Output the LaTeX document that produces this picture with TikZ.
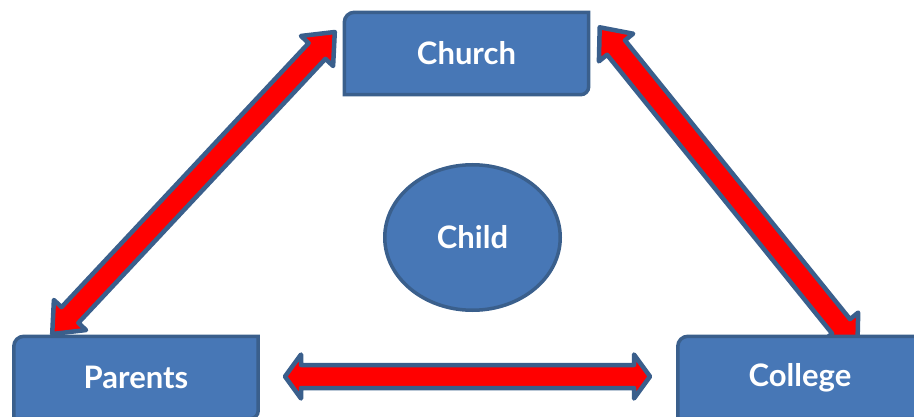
\documentclass[tikz,border=0pt]{standalone}
\usepackage{fontspec}
\setmainfont{Lato}
\usetikzlibrary{calc,backgrounds,shapes.geometric}
\definecolor{boxfill}{HTML}{4777B6}
\definecolor{boxline}{HTML}{3A5F8C}
\definecolor{arrred}{HTML}{FF0000}
% #1 start, #2 end, #3 head length, #4 head half width, #5 shaft half width
\newcommand\blockarrow[5]{%
  \draw[blockarr] (#1)
    -- ($(#1)!#3!(#2)!#4!90:(#2)$)
    -- ($(#1)!#3!(#2)!#5!90:(#2)$)
    -- ($(#2)!#3!(#1)!#5!-90:(#1)$)
    -- ($(#2)!#3!(#1)!#4!-90:(#1)$)
    -- (#2)
    -- ($(#2)!#3!(#1)!#4!90:(#1)$)
    -- ($(#2)!#3!(#1)!#5!90:(#1)$)
    -- ($(#1)!#3!(#2)!#5!-90:(#2)$)
    -- ($(#1)!#3!(#2)!#4!-90:(#2)$)
    -- cycle;}
\newcommand\snipbox[1]{%
  \draw[boxshape] (#1.south west) -- ([yshift=-10pt]#1.north west)
    arc[start angle=180,end angle=90,radius=10pt] -- (#1.north east)
    -- ([yshift=8pt]#1.south east)
    arc[start angle=0,end angle=-90,radius=8pt] -- cycle;}
\tikzset{
  blockarr/.style={fill=arrred, draw=boxline, line width=4.5pt, line join=round},
  boxshape/.style={fill=boxfill, draw=boxline, line width=3.5pt},
  boxtext/.style={minimum width=244pt, minimum height=82pt, inner sep=0pt,
    text=white, font=\fontsize{31}{36}\selectfont\bfseries},
  childstyle/.style={ellipse, minimum width=175.5pt, minimum height=145.5pt,
    inner sep=0pt, fill=boxfill, draw=boxline, line width=3.5pt,
    text=white, font=\fontsize{31}{36}\selectfont\bfseries}
}
\begin{document}
\begin{tikzpicture}[x=1pt,y=1pt]
\useasboundingbox (0,0) rectangle (914,416);
\node[boxtext] (church) at (466.5,362.5) {Church};
\node[boxtext] (parents) at (136,38.5) {Parents};
\node[boxtext] (college) at (800,38.5) {College};
\node[childstyle] (child) at (472.5,178.5) {Child};
\coordinate (pc1) at (52.2,82);
\coordinate (pc2) at (334.8,384);
\coordinate (cc1) at (599.7,388.7);
\coordinate (cc2) at (857.4,69.4);
\coordinate (pg1) at (285,39.5);
\coordinate (pg2) at (650,39.5);
\begin{pgfonlayer}{background}
  \blockarrow{pc1}{pc2}{26pt}{22pt}{11.5pt}
  \blockarrow{cc1}{cc2}{26pt}{22pt}{11.5pt}
  \blockarrow{pg1}{pg2}{16pt}{22pt}{11.5pt}
  \snipbox{church}
  \snipbox{parents}
  \snipbox{college}
\end{pgfonlayer}
\end{tikzpicture}
\end{document}
